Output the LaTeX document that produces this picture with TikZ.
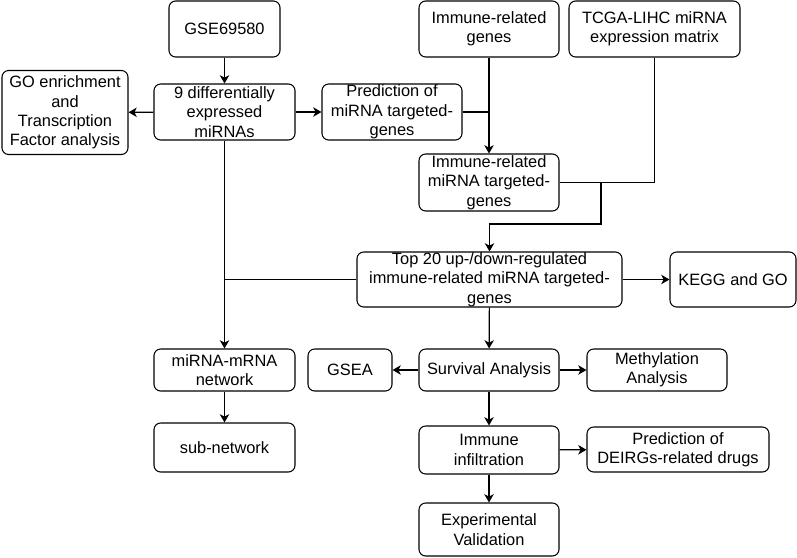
\documentclass[tikz,border=0pt]{standalone}
\usepackage{fontspec}
\setmainfont{Liberation Sans}
\usetikzlibrary{arrows.meta, positioning}

\tikzset{
  box/.style={draw, rounded corners=0.2cm, line width=0.9pt, align=center, inner sep=0pt,
    font=\fontsize{14}{16.5}\selectfont},
  arr/.style={-{Stealth[length=7pt, width=8pt, inset=2pt]}, line width=1pt},
  ln/.style={line width=1pt}
}

\begin{document}
\begin{tikzpicture}[x=0.03cm, y=-0.03cm]
  \useasboundingbox (0,0) rectangle (797,557);

  % Top row
  \node[box, minimum width=3.33cm, minimum height=1.68cm] (gse) at (224.5,29) {GSE69580};
  \node[box, minimum width=4.2cm, minimum height=1.68cm] (irg) at (489,29) {Immune-related\\genes};
  \node[box, minimum width=5.13cm, minimum height=1.68cm] (tcga) at (654.5,29) {TCGA-LIHC miRNA\\expression matrix};

  % miRNA row
  \node[box, minimum width=3.78cm, minimum height=2.52cm] (goenr) at (65,112.5) {GO enrichment\\and\\Transcription\\Factor analysis};
  \node[box, minimum width=4.23cm, minimum height=1.68cm] (degs) at (224.5,112) {9 differentially\\expressed\\miRNAs};
  \node[box, minimum width=4.2cm, minimum height=1.68cm] (pred) at (392,112) {Prediction of\\miRNA targeted-\\genes};

  % Target genes
  \node[box, minimum width=4.2cm, minimum height=1.71cm] (irmt) at (489,182.5) {Immune-related\\miRNA targeted-\\genes};
  \node[box, minimum width=7.95cm, minimum height=1.65cm] (top) at (489.5,279.5) {Top 20 up-/down-regulated\\immune-related miRNA targeted-\\genes};
  \node[box, minimum width=3.78cm, minimum height=1.65cm] (kegg) at (733,279.5) {KEGG and GO};

  % Analyses
  \node[box, minimum width=4.23cm, minimum height=1.26cm] (mm) at (224.5,370) {miRNA-mRNA\\network};
  \node[box, minimum width=2.52cm, minimum height=1.26cm] (gsea) at (350,370) {GSEA};
  \node[box, minimum width=4.2cm, minimum height=1.26cm] (surv) at (489,370) {Survival Analysis};
  \node[box, minimum width=4.2cm, minimum height=1.26cm] (meth) at (657,370) {Methylation\\Analysis};
  \node[box, minimum width=4.23cm, minimum height=1.47cm] (sub) at (224.5,447.5) {sub-network};
  \node[box, minimum width=4.2cm, minimum height=1.44cm] (infil) at (489,450) {Immune\\infiltration};
  \node[box, minimum width=5.46cm, minimum height=1.35cm] (drugs) at (678,449.5) {Prediction of\\DEIRGs-related drugs};
  \node[box, minimum width=4.2cm, minimum height=1.59cm] (exp) at (489,529.5) {Experimental\\Validation};

  \coordinate (j1) at (601,224);

  % Connectors
  \draw[arr] (gse) -- (degs);
  \draw[arr] (degs) -- (goenr);
  \draw[arr] (degs) -- (pred);
  \draw[arr] (irg) -- (irmt);
  \draw[ln] (pred.east) -- (pred.east -| irg.south);
  \draw[ln] (tcga.south) |- (irmt.east);
  \draw[arr] (irmt.east) -| (j1) -| (top.north);
  \draw[arr] (degs) -- (mm);
  \draw[ln] (top.west) -- (top.west -| degs.south);
  \draw[arr] (top) -- (kegg);
  \draw[arr] (top) -- (surv);
  \draw[arr] (surv) -- (gsea);
  \draw[arr] (surv) -- (meth);
  \draw[arr] (mm) -- (sub);
  \draw[arr] (surv) -- (infil);
  \draw[arr] (infil) -- (drugs);
  \draw[arr] (infil) -- (exp);
\end{tikzpicture}
\end{document}
